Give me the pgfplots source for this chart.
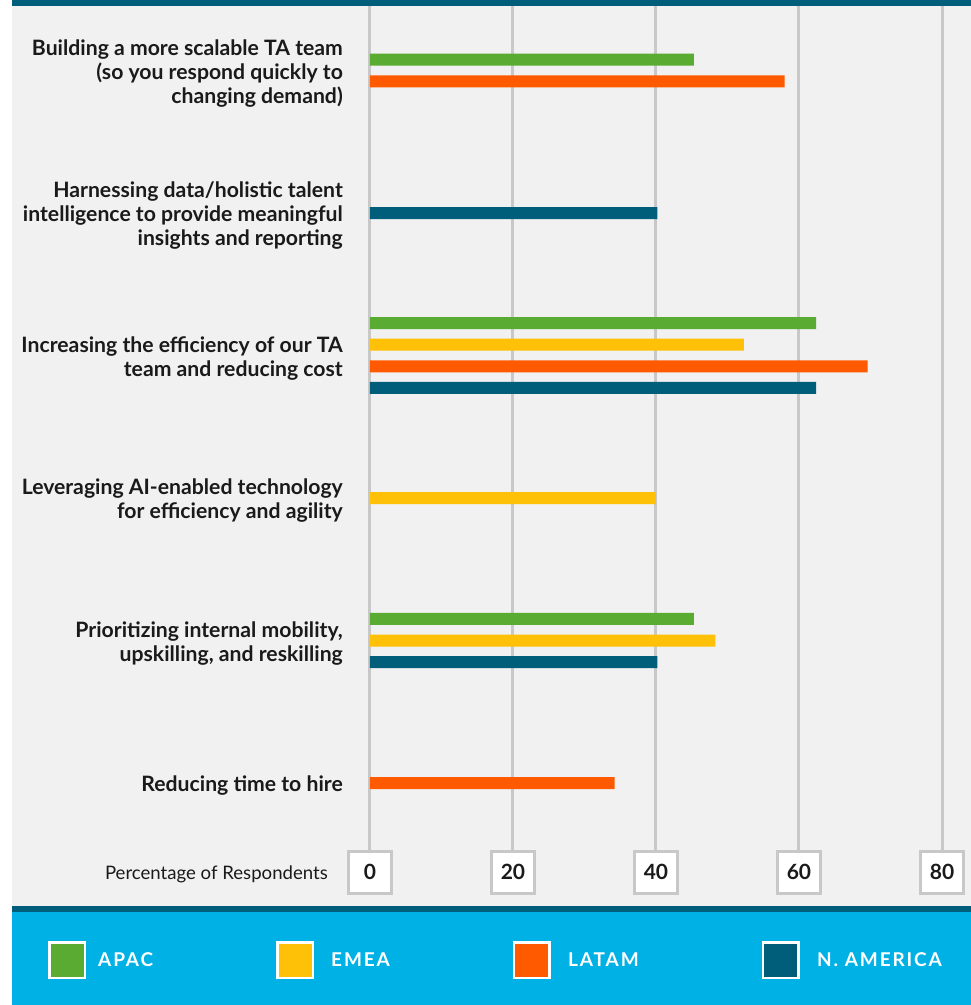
\documentclass[border=0pt]{standalone}
\usepackage{fontspec}
\setmainfont{Lato}
\newfontfamily\legendfont[LetterSpace=10]{Lato}
\usepackage{pgfplots}
\pgfplotsset{compat=1.18}
\definecolor{bgc}{HTML}{F1F1F1}
\definecolor{dteal}{HTML}{005E7A}
\definecolor{lblue}{HTML}{00B1E6}
\definecolor{apac}{HTML}{5AAB32}
\definecolor{emea}{HTML}{FFC107}
\definecolor{latam}{HTML}{FF5A00}
\definecolor{grd}{HTML}{C8C8C8}
\definecolor{txt}{HTML}{1A1A1A}
\begin{document}
\begin{tikzpicture}[x=1pt,y=1pt]
\fill[white] (0,0) rectangle (971,-1005);
\fill[bgc] (12,0) rectangle (971,-906);
\fill[dteal] (12,0) rectangle (971,-6);
\fill[dteal] (12,-906) rectangle (971,-912);
\fill[lblue] (12,-912) rectangle (971,-1005);
\begin{axis}[
  at={(370pt,-6pt)}, anchor=north west,
  scale only axis, width=572pt, height=844pt,
  xmin=0, xmax=80, ymin=-5.4702, ymax=0.4526,
  axis line style={draw=none}, major tick length=0pt,
  xtick={0,20,40,60,80},
  xmajorgrids, grid style={grd, line width=3pt},
  /pgf/number format/assume math mode=true,
  xticklabel style={draw=grd, line width=2.5pt, fill=white, minimum width=43pt, minimum height=42pt, inner sep=0pt, anchor=north, text=txt, font=\fontsize{21}{21}\selectfont\bfseries},
  ytick={-5,-4,-3,-2,-1,0},
  yticklabels={
    {Reducing time to hire},
    {Prioritizing internal mobility,\\upskilling, and reskilling},
    {Leveraging AI-enabled technology\\for efficiency and agility},
    {Increasing the efficiency of our TA\\team and reducing cost},
    {Harnessing data/holistic talent\\intelligence to provide meaningful\\insights and reporting},
    {Building a more scalable TA team\\(so you respond quickly to\\changing demand)}},
  yticklabel style={align=right, font=\fontsize{21.2}{24}\selectfont\bfseries, text=txt, inner sep=0pt, xshift=-27pt, yshift=-3pt},
  clip=false,
]
\addplot[xbar, bar width=12pt, bar shift=0pt, fill=apac, draw=none] coordinates {(45.3,0.076) (62.4,-1.772) (45.3,-3.848)};
\addplot[xbar, bar width=12pt, bar shift=0pt, fill=emea, draw=none] coordinates {(52.3,-1.924) (40.0,-3) (48.3,-4)};
\addplot[xbar, bar width=12pt, bar shift=0pt, fill=latam, draw=none] coordinates {(58.0,-0.076) (69.6,-2.076) (34.2,-5)};
\addplot[xbar, bar width=12pt, bar shift=0pt, fill=dteal, draw=none] coordinates {(40.2,-1) (62.4,-2.228) (40.2,-4.152)};
\end{axis}
\node[anchor=east, inner sep=0pt, text=txt, font=\fontsize{18.6}{20}\selectfont] at (328,-874) {Percentage of Respondents};
\foreach \cx/\lx/\c/\t in {67/98/apac/APAC, 295/331/emea/EMEA, 531.5/568/latam/LATAM, 780.5/817/dteal/N. AMERICA}{
  \draw[white, line width=2.5pt, fill=\c] (\cx-17.75,-942.25) rectangle (\cx+17.75,-977.75);
  \node[anchor=base west, inner sep=0pt, text=white, font=\legendfont\bfseries\fontsize{19}{20}\selectfont] at (\lx,-966) {\t};
}
\end{tikzpicture}
\end{document}
